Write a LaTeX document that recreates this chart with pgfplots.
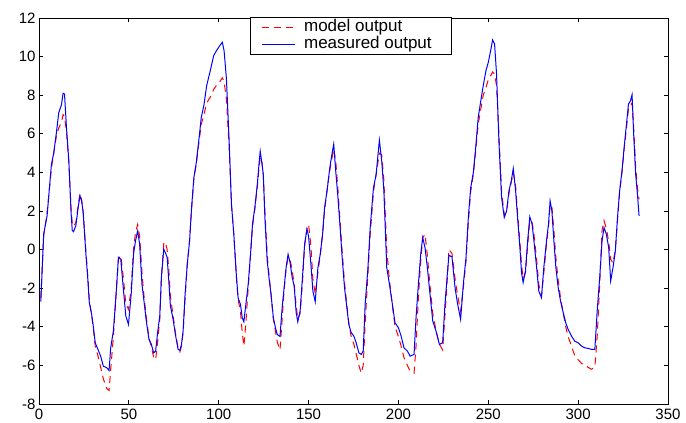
\documentclass[border=0pt]{standalone}
\usepackage{pgfplots}
\pgfplotsset{compat=1.18}
\usepackage{fontspec}
\setmainfont{Liberation Sans}
\begin{document}
\begin{tikzpicture}
\begin{axis}[
  scale only axis,
  width=629pt, height=386pt,
  xmin=0, xmax=350, ymin=-8, ymax=12,
  xtick={0,50,...,350}, ytick={-8,-6,...,12},
  tick align=inside, tick pos=both,
  major tick length=4pt,
  tick style={black, line width=0.8pt},
  axis line style={line width=0.8pt},
  ticklabel style={font=\fontsize{15}{18}\selectfont},
  /pgf/number format/assume math mode=true,
  xticklabel style={yshift=-1pt},
  legend style={at={(0.335,1.003)}, anchor=north west, draw=black, line width=0.8pt, fill=white,
    font=\fontsize{17}{18}\selectfont, row sep=1pt, inner xsep=11pt, inner ysep=2pt,
    nodes={inner ysep=0pt, inner xsep=9pt, text height=12.5pt, text depth=3.5pt}},
  legend cell align=left,
  legend image code/.code={\draw[#1] (0pt,0pt) -- (33pt,0pt);},
]
\addplot[red, line width=1pt, dash pattern=on 7pt off 5pt] coordinates {
(1,-2.5)(2.6,0.7)(4.5,1.9)(6.9,4.2)(8.2,5.0)(9.7,5.9)(11,6.3)(12.5,6.6)(13.4,7.0)(14.2,6.9)
(15.3,6.1)(16.6,4.5)(17.9,2.0)(18.5,1.4)(19.2,1.2)(20.5,1.4)(21.8,2.3)(22.8,2.9)(23.7,2.6)(24.6,1.9)
(26.1,-0.1)(27.1,-1.3)(28,-2.6)(29.3,-3.4)(30.2,-4.1)(31.3,-5.0)(32.8,-5.5)(34.3,-6.1)(35.8,-6.7)(37.7,-7.2)
(39,-7.3)(39.9,-6.2)(41.4,-4.5)(42.9,-2.3)(44.2,-0.5)(45.5,-0.3)(47,-1.5)(48.3,-2.8)(49.8,-3.1)(51.3,-2.0)
(52.6,0.0)(53.7,0.9)(54.9,1.3)(56,0.7)(57.3,-1.2)(58.2,-2.2)(59.7,-3.5)(61.2,-4.6)(62.5,-5.0)(63.8,-5.6)
(64.9,-5.7)(66,-4.8)(67.2,-3.6)(68.1,-1.5)(69.4,0.3)(70.3,0.4)(71.3,0.0)(72.2,-1.0)(73.1,-2.4)(74.6,-3.4)
(75.9,-4.3)(77.4,-5.1)(78.4,-5.3)(79.3,-5.0)(80.2,-4.3)(81.3,-2.5)(82.5,-0.8)(83.8,0.5)(84.9,2.1)(86.2,3.7)
(87.5,4.4)(88.8,5.4)(90.3,6.5)(91.8,7.0)(93.3,7.6)(95.3,7.9)(97.2,8.3)(98.7,8.5)(100.6,8.7)(102,8.9)
(103,8.7)(104.3,7.8)(105.8,5.3)(107.1,2.3)(108.4,0.8)(109.9,-1.5)(110.8,-2.6)(112.1,-3.2)(113.1,-4.3)(114,-5.0)
(115.1,-3.8)(116.4,-2.0)(117.7,-0.3)(118.8,1.2)(120.1,2.1)(121.5,3.3)(122.4,4.2)(123.1,4.8)(124.1,4.5)(124.8,3.9)
(125.7,2.0)(127,-0.3)(128.2,-1.5)(129.1,-2.3)(130.4,-3.6)(131.7,-4.3)(132.6,-4.8)(134.1,-5.2)(135.3,-3.6)(136.4,-2.1)
(137.5,-1.0)(138.6,-0.4)(139.7,-0.5)(140.9,-1.1)(142,-1.8)(143.1,-2.9)(144,-3.6)(145.3,-3.3)(146.6,-1.7)(147.8,0.2)
(149.1,1.1)(150,1.3)(151.3,0.2)(152.4,-1.5)(153.7,-2.3)(155.2,-1.2)(156.5,-0.3)(157.8,0.8)(158.9,2.0)(160.3,3.1)
(161.6,4.0)(162.7,4.6)(164,5.2)(165.1,4.6)(166.2,3.3)(167.3,1.8)(168.7,-0.1)(170,-1.7)(171.1,-2.7)(172.4,-3.8)
(173.7,-4.5)(175.2,-4.9)(176.5,-5.4)(178,-6.0)(179.3,-6.4)(180.4,-6.0)(181.5,-3.8)(183,-1.3)(184.3,0.8)(186.1,3.0)
(187.6,3.9)(189.4,5.0)(190.7,4.9)(191.9,3.6)(193.5,0.0)(195,-1.6)(196.9,-3.1)(198.1,-4.0)(200,-4.5)(201.5,-5.0)
(203.1,-5.6)(205,-6.0)(206.5,-6.3)(208.7,-6.4)(209.8,-5.0)(211.1,-2.5)(212.4,-0.6)(213.5,0.6)(214.8,0.8)(216.1,-0.3)
(217.2,-1.5)(219.1,-3.3)(220.9,-4.2)(222.8,-4.9)(224.6,-5.2)(225.9,-3.4)(227.2,-1.5)(228.1,0.0)(229.8,-0.2)(231.5,-1.5)
(232.8,-2.3)(234.6,-3.2)(236.1,-2.0)(237.6,-0.6)(238.9,1.4)(240.2,3.0)(241.7,3.9)(243,5.1)(244.4,6.5)(245.7,7.2)
(247.2,8.0)(248.7,8.4)(250,8.8)(251.3,9.0)(252.4,9.2)(253.5,9.1)(254.6,8.5)(255.9,6.0)(257.4,3.0)(258.9,1.8)
(260.2,2.0)(261.5,2.9)(262.8,3.5)(263.9,4.0)(265.2,3.3)(266.3,1.9)(267.6,0.4)(268.5,-0.8)(269.4,-1.5)(270.7,-1.2)
(271.9,0.2)(273.1,1.5)(274.4,1.4)(275.4,0.8)(276.9,-0.5)(278.1,-1.8)(279.6,-2.4)(280.9,-1.2)(282.4,0.3)(283.5,1.2)
(284.4,2.3)(285.4,2.2)(286.5,1.0)(287.6,-0.4)(288.9,-1.6)(290.2,-2.5)(291.7,-3.3)(293.1,-4.0)(294.4,-4.5)(296.3,-5.0)
(298.1,-5.5)(300,-5.7)(301.9,-5.9)(303.7,-6.0)(305.6,-6.1)(307.4,-6.2)(309.3,-6.1)(310.6,-4.5)(312,-1.8)(313.3,1.0)
(314.4,1.5)(315.7,1.1)(317,0.4)(318.1,-0.5)(319.4,-0.7)(320.7,0.0)(321.9,1.5)(323.1,3.0)(324.4,4.0)(325.6,5.2)
(326.9,6.3)(328,7.3)(329.1,7.5)(330,7.6)(330.9,6.3)(332,4.3)(333,3.2)(333.9,2.6)
};
\addlegendentry{model output}
\addplot[blue, line width=1pt] coordinates {
(1,-2.7)(2.6,0.8)(4.5,1.75)(6.9,4.4)(8.2,5.0)(9.7,6.07)(11,7.1)(12.5,7.5)(13.4,8.1)(14.2,8.06)
(15.3,6.3)(16.6,4.6)(17.9,1.83)(18.5,1.0)(19.2,0.93)(20.5,1.23)(21.8,2.18)(22.8,2.79)(23.7,2.53)(24.6,1.92)
(26.1,-0.24)(27.1,-1.45)(28,-2.75)(29.3,-3.36)(30.2,-3.96)(31.3,-4.83)(32.8,-5.17)(34.3,-5.52)(35.8,-6.04)(37.7,-6.12)
(39,-6.26)(39.9,-5.09)(41.4,-4.2)(42.9,-2.3)(44.2,-0.4)(45.5,-0.5)(47,-2.1)(48.3,-3.44)(49.8,-3.88)(51.3,-2.3)
(52.6,-0.24)(53.7,0.45)(54.9,0.97)(56,0.28)(57.3,-1.8)(58.2,-2.49)(59.7,-3.7)(61.2,-4.65)(62.5,-4.9)(63.8,-5.35)
(64.9,-5.26)(66,-4.3)(67.2,-3.44)(68.1,-1.45)(69.4,0.02)(70.3,-0.16)(71.3,-0.4)(72.2,-1.6)(73.1,-2.9)(74.6,-3.6)
(75.9,-4.4)(77.4,-5.17)(78.4,-5.22)(79.3,-4.9)(80.2,-4.2)(81.3,-2.3)(82.5,-0.76)(83.8,0.45)(84.9,2.18)(86.2,3.74)
(87.5,4.5)(88.8,5.55)(90.3,6.85)(91.8,7.5)(93.3,8.5)(95.3,9.27)(97.2,10.05)(98.7,10.3)(100.6,10.57)(102,10.74)
(103,10.3)(104.3,8.84)(105.8,5.64)(107.1,2.35)(108.4,0.8)(109.9,-1.45)(110.8,-2.5)(112.1,-2.84)(113.1,-3.53)(114,-3.74)
(115.1,-2.84)(116.4,-1.8)(117.7,-0.24)(118.8,1.31)(120.1,2.18)(121.5,3.39)(122.4,4.43)(123.1,5.09)(124.1,4.43)(124.8,3.9)
(125.7,1.66)(127,-0.6)(128.2,-1.63)(129.1,-2.3)(130.4,-3.53)(131.7,-4.1)(132.6,-4.4)(134.1,-4.5)(135.3,-3.0)(136.4,-1.97)
(137.5,-0.93)(138.6,-0.24)(139.7,-0.67)(140.9,-1.45)(142,-1.9)(143.1,-3.27)(144,-3.74)(145.3,-3.18)(146.6,-1.45)(147.8,0.28)
(149.1,1.06)(150,0.7)(151.3,-0.76)(152.4,-2.15)(153.7,-2.7)(155.2,-0.93)(156.5,-0.24)(157.8,0.8)(158.9,2.18)(160.3,3.05)
(161.6,4.08)(162.7,4.78)(164,5.47)(165.1,4.08)(166.2,2.87)(167.3,1.49)(168.7,-0.42)(170,-1.97)(171.1,-2.84)(172.4,-3.88)
(173.7,-4.3)(175.2,-4.48)(176.5,-4.83)(178,-5.35)(179.3,-5.43)(180.4,-5.26)(181.5,-2.8)(183,-1.0)(184.3,1.14)(186.1,3.2)
(187.6,3.9)(189.4,5.67)(190.7,4.6)(191.9,3.05)(193.5,-0.93)(195,-1.8)(196.9,-3.0)(198.1,-3.79)(200,-4.05)(201.5,-4.48)
(203.1,-5.09)(205,-5.26)(206.5,-5.52)(208.7,-5.43)(209.8,-3.53)(211.1,-1.8)(212.4,-0.24)(213.5,0.62)(214.8,0.1)(216.1,-0.93)
(217.2,-1.97)(219.1,-3.7)(220.9,-4.22)(222.8,-4.91)(224.6,-4.83)(225.9,-2.84)(227.2,-1.28)(228.1,-0.29)(229.8,-0.38)(231.5,-1.97)
(232.8,-2.75)(234.6,-3.62)(236.1,-1.8)(237.6,-0.42)(238.9,1.66)(240.2,3.2)(241.7,4.0)(243,5.3)(244.4,6.85)(245.7,7.63)
(247.2,8.5)(248.7,9.27)(250,9.7)(251.3,10.3)(252.4,10.86)(253.5,10.66)(254.6,9.1)(255.9,5.64)(257.4,2.7)(258.9,1.66)
(260.2,2.0)(261.5,3.05)(262.8,3.56)(263.9,4.2)(265.2,3.05)(266.3,1.66)(267.6,0.1)(268.5,-1.2)(269.4,-1.71)(270.7,-1.1)
(271.9,0.45)(273.1,1.7)(274.4,1.31)(275.4,0.45)(276.9,-0.93)(278.1,-2.15)(279.6,-2.49)(280.9,-0.93)(282.4,0.45)(283.5,1.31)
(284.4,2.53)(285.4,2.0)(286.5,0.45)(287.6,-0.93)(288.9,-1.97)(290.2,-2.66)(291.7,-3.27)(293.1,-3.79)(294.4,-4.13)(296.3,-4.48)
(298.1,-4.74)(300,-4.83)(301.9,-5.0)(303.7,-5.09)(305.6,-5.12)(307.4,-5.17)(309.3,-5.17)(310.6,-3.18)(312,-1.45)(313.3,0.45)
(314.4,1.14)(315.7,0.8)(317,0.1)(318.1,-1.63)(319.4,-0.93)(320.7,-0.07)(321.9,1.66)(323.1,3.05)(324.4,4.08)(325.6,5.3)
(326.9,6.5)(328,7.54)(329.1,7.7)(330,8.03)(330.9,5.99)(332,3.9)(333,2.87)(333.9,1.75)
};
\addlegendentry{measured output}
\end{axis}
\path (-39pt,-18pt) rectangle (647pt,404pt);
\end{tikzpicture}
\end{document}
